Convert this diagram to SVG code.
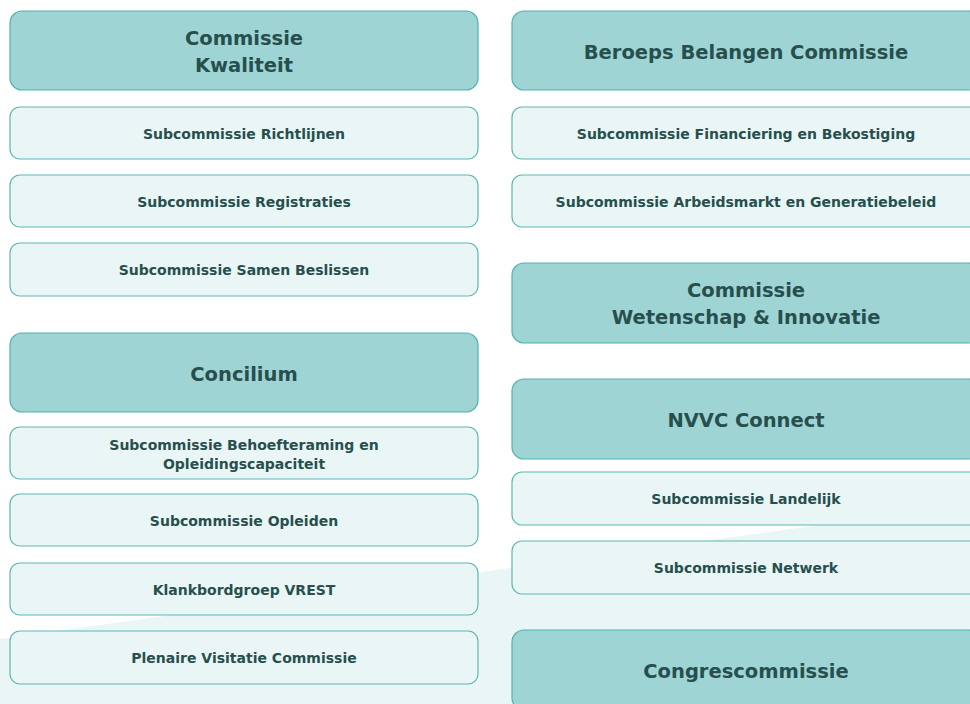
<svg xmlns="http://www.w3.org/2000/svg" width="970" height="704" viewBox="0 0 970 704">
<style>
.main rect{fill:#9fd4d4;stroke:#4fb3b0;stroke-width:1.2}
.sub rect{fill:#eaf6f6;stroke:#5ab7b4;stroke-width:1.2}
text{font-family:"DejaVu Sans","Liberation Sans",sans-serif;font-weight:bold;fill:#264f4d;text-anchor:middle}
.main text{font-size:19.5px}
.sub text{font-size:14px}
</style>
<rect x="0" y="0" width="970" height="704" fill="#ffffff"/>
<polygon points="0,639 970,504 970,704 0,704" fill="#eaf5f5"/>
<g id="connectors"/>
<g id="kwaliteit" class="main"><rect x="10" y="11" width="468" height="79" rx="12"/><text x="244" y="45">Commissie</text><text x="244" y="72">Kwaliteit</text></g>
<g id="richtlijnen" class="sub"><rect x="10" y="107" width="468" height="52" rx="10"/><text x="244" y="139">Subcommissie Richtlijnen</text></g>
<g id="registraties" class="sub"><rect x="10" y="175" width="468" height="52" rx="10"/><text x="244" y="207">Subcommissie Registraties</text></g>
<g id="samen" class="sub"><rect x="10" y="243" width="468" height="53" rx="10"/><text x="244" y="275">Subcommissie Samen Beslissen</text></g>
<g id="concilium" class="main"><rect x="10" y="333" width="468" height="79" rx="12"/><text x="244" y="381">Concilium</text></g>
<g id="behoefteraming" class="sub"><rect x="10" y="427" width="468" height="52" rx="10"/><text x="244" y="450">Subcommissie Behoefteraming en</text><text x="244" y="469">Opleidingscapaciteit</text></g>
<g id="opleiden" class="sub"><rect x="10" y="494" width="468" height="52" rx="10"/><text x="244" y="526">Subcommissie Opleiden</text></g>
<g id="vrest" class="sub"><rect x="10" y="563" width="468" height="52" rx="10"/><text x="244" y="595">Klankbordgroep VREST</text></g>
<g id="plenaire" class="sub"><rect x="10" y="631" width="468" height="53" rx="10"/><text x="244" y="663">Plenaire Visitatie Commissie</text></g>
<g id="beroeps" class="main"><rect x="512" y="11" width="468" height="79" rx="12"/><text x="746" y="59">Beroeps Belangen Commissie</text></g>
<g id="financiering" class="sub"><rect x="512" y="107" width="468" height="52" rx="10"/><text x="746" y="139">Subcommissie Financiering en Bekostiging</text></g>
<g id="arbeidsmarkt" class="sub"><rect x="512" y="175" width="468" height="52" rx="10"/><text x="746" y="207">Subcommissie Arbeidsmarkt en Generatiebeleid</text></g>
<g id="wetenschap" class="main"><rect x="512" y="263" width="468" height="80" rx="12"/><text x="746" y="297">Commissie</text><text x="746" y="324">Wetenschap &amp; Innovatie</text></g>
<g id="nvvc" class="main"><rect x="512" y="379" width="468" height="80" rx="12"/><text x="746" y="427">NVVC Connect</text></g>
<g id="landelijk" class="sub"><rect x="512" y="472" width="468" height="53" rx="10"/><text x="746" y="504">Subcommissie Landelijk</text></g>
<g id="netwerk" class="sub"><rect x="512" y="541" width="468" height="53" rx="10"/><text x="746" y="573">Subcommissie Netwerk</text></g>
<g id="congres" class="main"><rect x="512" y="630" width="468" height="80" rx="12"/><text x="746" y="678">Congrescommissie</text></g>
</svg>
